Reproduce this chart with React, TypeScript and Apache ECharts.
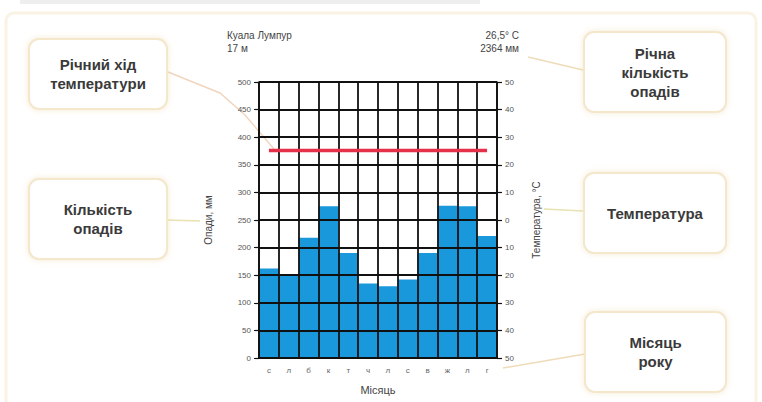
import React, { useEffect, useRef } from "react";
import * as echarts from "echarts";

const months = ["с", "л", "б", "к", "т", "ч", "л", "с", "в", "ж", "л", "г"];
const precipitation = [162, 150, 218, 275, 190, 135, 130, 142, 190, 276, 275, 221];
const temperature = [25.2, 25.2, 25.2, 25.2, 25.2, 25.2, 25.2, 25.2, 25.2, 25.2, 25.2, 25.2];
const stationName = "Куала Лумпур";
const stationHeight = "17 м";
const meanTemp = "26,5° С";
const annualPrecip = "2364 мм";
const precipAxisName = "Опади, мм";
const tempAxisName = "Температура, °С";
const monthAxisName = "Місяць";
const callouts = ["Річний хід\nтемператури", "Кількість\nопадів", "Річна\nкількість\nопадів", "Температура", "Місяць\nроку"];

const FONT = '"Liberation Sans", Arial, sans-serif';

function box(x: number, y: number, w: number, h: number, text: string) {
  return {
    type: "group",
    children: [
      {
        type: "rect",
        shape: { x, y, width: w, height: h, r: 10 },
        style: {
          fill: "#ffffff",
          stroke: "#f4e7cc",
          lineWidth: 2,
          shadowBlur: 6,
          shadowColor: "rgba(235,210,160,0.45)",
        },
      },
      {
        type: "text",
        x: x + w / 2,
        y: y + h / 2,
        style: {
          text,
          fill: "#3a3a3a",
          font: `bold 15px ${FONT}`,
          lineHeight: 19,
          textAlign: "center",
          textVerticalAlign: "middle",
        },
      },
    ],
  };
}

export default function App() {
  const ref = useRef<HTMLDivElement>(null);
  useEffect(() => {
    if (!ref.current) return;
    const chart = echarts.init(ref.current, undefined, { renderer: "svg" });
    const option: any = {
      animation: false,
      backgroundColor: "#ffffff",
      textStyle: { fontFamily: FONT },
      grid: { left: 259, right: 265, top: 82, bottom: 44 },
      xAxis: {
        type: "category",
        data: months,
        z: 5,
        axisLine: { show: true, lineStyle: { color: "#111", width: 1.6 } },
        axisTick: { show: false },
        axisLabel: { color: "#666", fontSize: 8, margin: 8 },
        splitLine: { show: true, interval: 0, lineStyle: { color: "#111", width: 1.8 } },
        name: monthAxisName,
        nameLocation: "middle",
        nameGap: 26,
        nameTextStyle: { color: "#444", fontSize: 11 },
      },
      yAxis: [
        {
          type: "value",
          min: 0,
          max: 500,
          interval: 50,
          z: 5,
          axisLine: { show: true, lineStyle: { color: "#111", width: 1.6 } },
          axisTick: { show: true, length: 5, lineStyle: { color: "#111", width: 1.2 } },
          axisLabel: { color: "#555", fontSize: 8, margin: 8 },
          splitLine: { show: true, lineStyle: { color: "#111", width: 1.8 } },
          name: precipAxisName,
          nameLocation: "middle",
          nameGap: 46,
          nameRotate: 90,
          nameTextStyle: { color: "#444", fontSize: 10 },
        },
        {
          type: "value",
          min: -50,
          max: 50,
          interval: 10,
          position: "right",
          z: 5,
          axisLine: { show: true, lineStyle: { color: "#111", width: 1.6 } },
          axisTick: { show: true, length: 5, lineStyle: { color: "#111", width: 1.2 } },
          axisLabel: {
            color: "#555",
            fontSize: 8,
            margin: 8,
            formatter: (v: number) => String(Math.abs(v)),
          },
          splitLine: { show: false },
          name: tempAxisName,
          nameLocation: "middle",
          nameGap: 34,
          nameRotate: 90,
          nameTextStyle: { color: "#444", fontSize: 10 },
        },
      ],
      series: [
        {
          type: "bar",
          data: precipitation,
          yAxisIndex: 0,
          barCategoryGap: "0%",
          itemStyle: { color: "#1a98dc" },
          z: 2,
        },
        {
          type: "line",
          data: temperature,
          yAxisIndex: 1,
          symbol: "none",
          lineStyle: { color: "#e5304a", width: 3.5 },
          z: 20,
        },
      ],
      graphic: [
        {
          type: "rect",
          shape: { x: 6, y: 13, width: 750, height: 395, r: 8 },
          style: { fill: "none", stroke: "#faf3e4", lineWidth: 3 },
          silent: true,
        },
        {
          type: "rect",
          shape: { x: 20, y: 0, width: 460, height: 4 },
          style: { fill: "#eeeeee" },
        },
        { type: "text", x: 227, y: 30, style: { text: stationName, fill: "#444", font: `10px ${FONT}` } },
        { type: "text", x: 227, y: 43, style: { text: stationHeight, fill: "#444", font: `10px ${FONT}` } },
        { type: "text", x: 519, y: 30, style: { text: meanTemp, fill: "#444", font: `10px ${FONT}`, textAlign: "right" } },
        { type: "text", x: 519, y: 43, style: { text: annualPrecip, fill: "#444", font: `10px ${FONT}`, textAlign: "right" } },
        {
          type: "polyline",
          shape: { points: [[168, 72], [220, 93], [245, 115], [274, 149]] },
          style: { stroke: "#f1d6bf", lineWidth: 1.5, fill: "none" },
        },
        { type: "polyline", shape: { points: [[167, 220], [200, 221]] }, style: { stroke: "#e7e2b0", lineWidth: 1.5, fill: "none" } },
        { type: "polyline", shape: { points: [[528, 57], [583, 70]] }, style: { stroke: "#eedcb8", lineWidth: 1.5, fill: "none" } },
        { type: "polyline", shape: { points: [[544, 209], [583, 211]] }, style: { stroke: "#e7e2b0", lineWidth: 1.5, fill: "none" } },
        { type: "polyline", shape: { points: [[503, 368], [585, 354]] }, style: { stroke: "#eedcb8", lineWidth: 1.5, fill: "none" } },
        box(29, 39, 138, 70, callouts[0]),
        box(29, 179, 138, 80, callouts[1]),
        box(584, 32, 142, 80, callouts[2]),
        box(584, 173, 142, 80, callouts[3]),
        box(585, 312, 141, 80, callouts[4]),
      ],
    };
    chart.setOption(option);
    return () => chart.dispose();
  }, []);
  return (
    <div
      ref={ref}
      style={{ position: "fixed", left: 0, top: 0, width: 762, height: 402 }}
    />
  );
}
